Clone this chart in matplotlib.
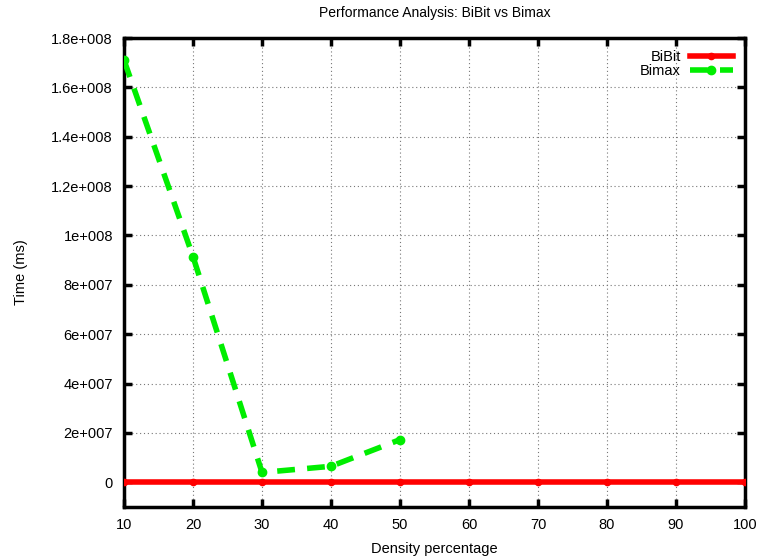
import matplotlib
matplotlib.use("Agg")
import matplotlib.pyplot as plt
from matplotlib.ticker import FuncFormatter, MultipleLocator

plt.rcParams['font.family'] = ['Liberation Sans', 'DejaVu Sans']

density = [10, 20, 30, 40, 50, 60, 70, 80, 90, 100]
bibit = [0, 0, 0, 0, 0, 0, 0, 0, 0, 0]
bimax_x = [10, 20, 30, 40, 50]
bimax = [1.71e8, 9.14e7, 4.0e6, 6.5e6, 1.73e7]


def gfmt(v, pos):
    if abs(v) < 1:
        return "0"
    s = "%g" % v
    if "e" in s:
        m, e = s.split("e")
        sign = e[0]
        digits = e[1:].lstrip("0")
        return "%se%s%03d" % (m, sign, int(digits))
    return s


fig = plt.figure(figsize=(7.61, 5.59), dpi=100)
ax = fig.add_axes([0.163, 0.093, 0.816, 0.839])

ax.plot(density, bibit, color='#ff0000', lw=4, marker='o', ms=4.5,
        label='BiBit', zorder=3)
ax.plot(bimax_x, bimax, color='#00ee00', lw=4, ls=(0, (3.2, 2.2)), marker='o',
        ms=6, label='Bimax', zorder=4)

ax.set_xlim(10, 100)
ax.set_ylim(-1e7, 1.8e8)
ax.xaxis.set_major_locator(MultipleLocator(10))
ax.yaxis.set_major_locator(MultipleLocator(2e7))
ax.yaxis.set_major_formatter(FuncFormatter(gfmt))

ax.grid(True, color='#777777', ls=(0, (1, 2.5)), lw=0.8)
ax.tick_params(direction='in', length=6, width=2.5, top=True, right=True,
               labelsize=10.5, pad=8, colors='black')
for sp in ax.spines.values():
    sp.set_linewidth(2.5)

ax.set_title('Performance Analysis: BiBit vs Bimax', fontsize=10, pad=15)
ax.set_xlabel('Density percentage', fontsize=10.5, labelpad=7)
ax.set_ylabel('Time (ms)', fontsize=10.5)
ax.yaxis.set_label_coords(-0.155, 0.5)

leg = ax.legend(loc='upper right', frameon=False, markerfirst=False,
                fontsize=10.5, handlelength=3, handletextpad=0.6,
                borderaxespad=0.4, labelspacing=0.05)

fig.savefig('out.png', dpi=100)
